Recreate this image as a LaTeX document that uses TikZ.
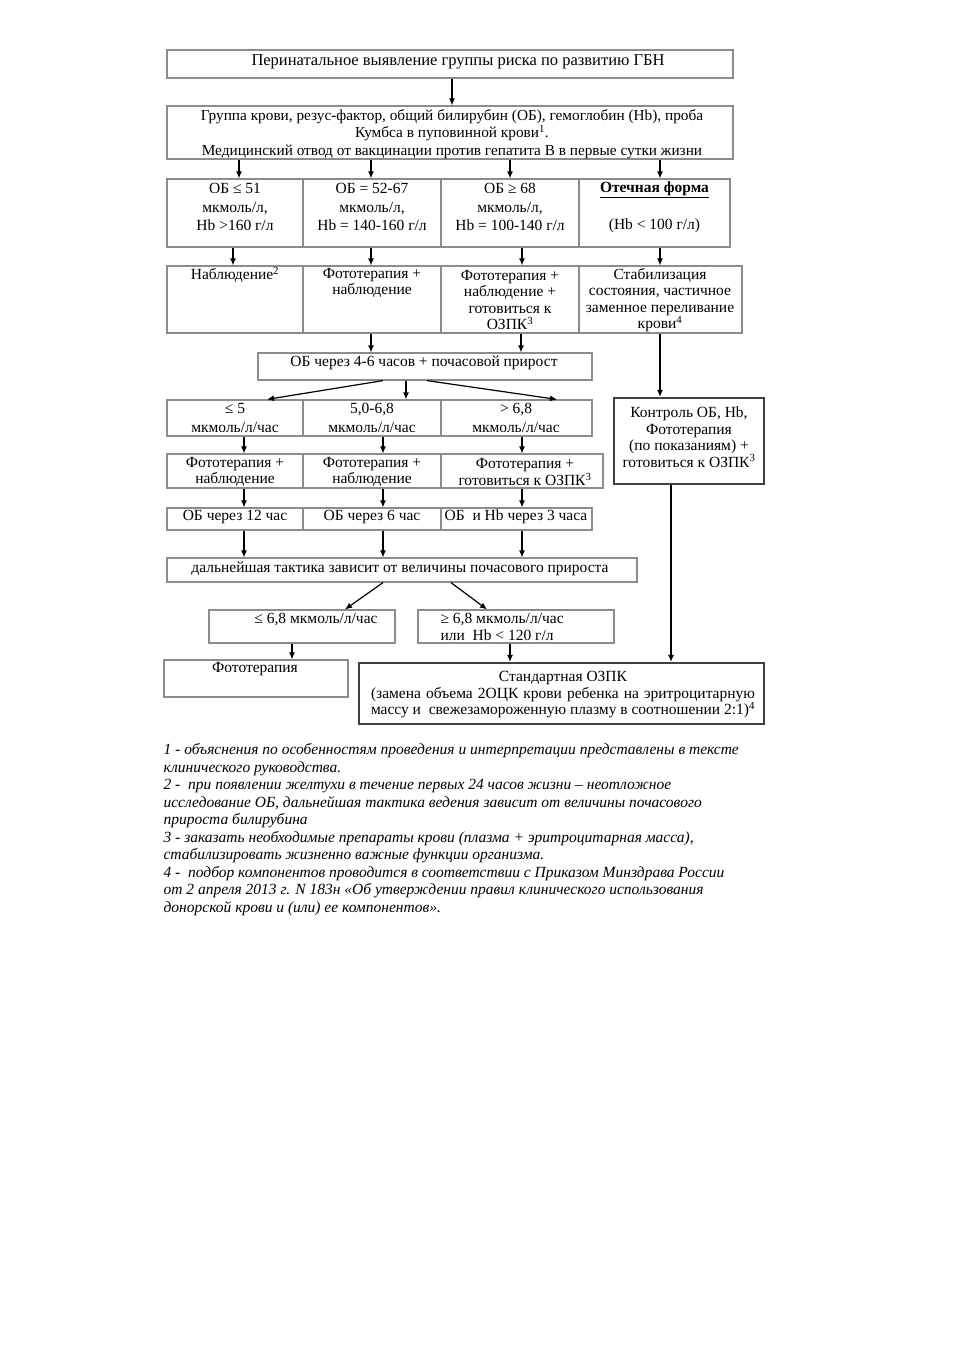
\documentclass[tikz,border=0pt]{standalone}
\usepackage{fontspec}
\setmainfont{Liberation Serif}
\usetikzlibrary{arrows.meta,positioning}
\definecolor{edgegray}{gray}{0.55}
\definecolor{darkedge}{gray}{0.25}
\tikzset{box/.style 2 args = {rectangle, draw=edgegray, line width=1.2pt, minimum width=#1, minimum height=#2, inner sep=0pt},
           bbox/.style 2 args = {rectangle, draw=darkedge, line width=2.2pt, minimum width=#1, minimum height=#2, inner sep=0pt},
           tm/.style = {align=center, inner sep=0pt, font=\fontsize{16.5}{17.5}\selectfont},
           cb/.style = {align=center, inner sep=0pt, font=\fontsize{15.5}{16.5}\selectfont},
           cbw/.style = {align=center, inner sep=0pt, font=\fontsize{15.5}{18.5}\selectfont},
           nt/.style = {align=left, inner sep=0pt, font=\fontsize{15.5}{17.5}\selectfont\itshape}}

\begin{document}
\begin{tikzpicture}[x=1pt, y=-1pt, >={Latex[length=7pt,width=6pt]}, line width=1.2pt]
    \useasboundingbox (0,0) rectangle (954,1350);
    % boxes
    \node[box={566}{28}] (b1) at (450,64) {};
    \node[box={566}{53}] (b2) at (450,132.5) {};
    \node[box={136}{68}] (r3a) at (235,213) {}; \node[box={138}{68}] (r3b) at (372,213) {};
    \node[box={138}{68}] (r3c) at (510,213) {}; \node[box={151}{68}] (r3d) at (654.5,213) {};
    \node[box={136}{67}] (r4a) at (235,299.5) {}; \node[box={138}{67}] (r4b) at (372,299.5) {};
    \node[box={138}{67}] (r4c) at (510,299.5) {}; \node[box={163}{67}] (r4d) at (660.5,299.5) {};
    \node[box={334}{27}] (b46) at (425,366.5) {};
    \node[bbox={150}{86}] (ctl) at (689,441) {};
    \node[box={136}{36}] (r5a) at (235,418) {}; \node[box={138}{36}] (r5b) at (372,418) {};
    \node[box={151}{36}] (r5c) at (516.5,418) {};
    \node[box={136}{34}] (r6a) at (235,471) {}; \node[box={138}{34}] (r6b) at (372,471) {};
    \node[box={162}{34}] (r6c) at (522,471) {};
    \node[box={136}{22}] (r7a) at (235,519) {}; \node[box={138}{22}] (r7b) at (372,519) {};
    \node[box={151}{22}] (r7c) at (516.5,519) {};
    \node[box={470}{24}] (r8) at (402,570) {};
    \node[box={186}{33}] (lo) at (302,626.5) {};
    \node[box={196}{33}] (hi) at (516,626.5) {};
    \node[box={184}{37}] (ft) at (256,678.5) {};
    \node[bbox={405}{61}] (st) at (561.5,693.5) {};
    % texts
    \node[tm] (b1t) at (458,62) {Перинатальное выявление группы риска по развитию ГБН};
    \node[tm, font=\fontsize{15.3}{17.5}\selectfont] (b2t) at (452,134) {Группа крови, резус-фактор, общий билирубин (ОБ), гемоглобин (Hb), проба\\Кумбса в пуповинной крови\textsuperscript{1}.\\Медицинский отвод от вакцинации против гепатита В в первые сутки жизни};
    \node[cbw] (r3at) at (235,207) {ОБ ≤ 51\\мкмоль/л,\\Hb >160 г/л};
    \node[cbw] (r3bt) at (372,207) {ОБ = 52-67\\мкмоль/л,\\Hb = 140-160 г/л};
    \node[cbw] (r3ct) at (510,207) {ОБ ≥ 68\\мкмоль/л,\\Hb = 100-140 г/л};
    \node[cbw] (r3dt) at (654.5,207) {\textbf{\underline{Отечная форма}}\\\mbox{}\\(Hb < 100 г/л)};
    \node[cb] (r4at) at (235,275) {Наблюдение\textsuperscript{2}};
    \node[cb] (r4bt) at (372,283) {Фототерапия +\\наблюдение};
    \node[cb] (r4ct) at (510,300) {Фототерапия +\\наблюдение +\\готовиться к\\ОЗПК\textsuperscript{3}};
    \node[cb] (r4dt) at (660,300) {Стабилизация\\состояния, частичное\\заменное переливание\\крови\textsuperscript{4}};
    \node[cb] (b46t) at (424,363) {ОБ через 4-6 часов + почасовой прирост};
    \node[cbw] (r5at) at (235,418) {≤ 5\\мкмоль/л/час};
    \node[cbw] (r5bt) at (372,418) {5,0-6,8\\мкмоль/л/час};
    \node[cbw] (r5ct) at (516,418) {> 6,8\\мкмоль/л/час};
    \node[cb] (ctlt) at (689,437) {Контроль ОБ, Hb,\\Фототерапия\\(по показаниям) +\\готовиться к ОЗПК\textsuperscript{3}};
    \node[cb] (r6at) at (235,472) {Фототерапия +\\наблюдение};
    \node[cb] (r6bt) at (372,472) {Фототерапия +\\наблюдение};
    \node[cb] (r6ct) at (525,472) {Фототерапия +\\готовиться к ОЗПК\textsuperscript{3}};
    \node[cb] (r7at) at (235,517) {ОБ через 12 час};
    \node[cb] (r7bt) at (372,517) {ОБ через 6 час};
    \node[cb] (r7ct) at (516,517) {ОБ~ и Hb через 3 часа};
    \node[cb] (r8t) at (400,569) {дальнейшая тактика зависит от величины почасового прироста};
    \node[cb] (lot) at (316,620) {≤ 6,8 мкмоль/л/час};
    \node[cb, align=left, anchor=west] (hit) at (440,627) {≥ 6,8 мкмоль/л/час\\или~ Hb < 120 г/л};
    \node[cb] (ftt) at (255,669) {Фототерапия};
    \node[cb] (stt) at (563,695) {Стандартная ОЗПК\\\makebox[384pt][s]{(замена объема 2ОЦК крови ребенка на эритроцитарную}\\\makebox[384pt][s]{массу и~ свежезамороженную плазму в соотношении 2:1)\textsuperscript{4}}};
    % arrows
    \draw[->] (b1.south -| 452,0) -- (b2.north -| 452,0);
    \draw[->] (b2.south -| 239,0) -- (r3a.north -| 239,0);
    \draw[->] (b2.south -| 371,0) -- (r3b.north -| 371,0);
    \draw[->] (b2.south -| 510,0) -- (r3c.north -| 510,0);
    \draw[->] (b2.south -| 660,0) -- (r3d.north -| 660,0);
    \draw[->] (r3a.south -| 233,0) -- (r4a.north -| 233,0);
    \draw[->] (r3b.south -| 371,0) -- (r4b.north -| 371,0);
    \draw[->] (r3c.south -| 522,0) -- (r4c.north -| 522,0);
    \draw[->] (r3d.south -| 660,0) -- (r4d.north -| 660,0);
    \draw[->] (r4b.south -| 371,0) -- (b46.north -| 371,0);
    \draw[->] (r4c.south -| 521,0) -- (b46.north -| 521,0);
    \draw[->] (r4d.south -| 660,0) -- (ctl.north -| 660,0);
    \draw[->] (b46.south -| 383,0) -- (r5a.north -| 267,0);
    \draw[->] (b46.south -| 406,0) -- (r5b.north -| 406,0);
    \draw[->] (b46.south -| 427,0) -- (r5c.north -| 557,0);
    \draw[->] (r5a.south -| 244,0) -- (r6a.north -| 244,0);
    \draw[->] (r5b.south -| 383,0) -- (r6b.north -| 383,0);
    \draw[->] (r5c.south -| 522,0) -- (r6c.north -| 522,0);
    \draw[->] (r6a.south -| 244,0) -- (r7a.north -| 244,0);
    \draw[->] (r6b.south -| 383,0) -- (r7b.north -| 383,0);
    \draw[->] (r6c.south -| 522,0) -- (r7c.north -| 522,0);
    \draw[->] (r7a.south -| 244,0) -- (r8.north -| 244,0);
    \draw[->] (r7b.south -| 383,0) -- (r8.north -| 383,0);
    \draw[->] (r7c.south -| 522,0) -- (r8.north -| 522,0);
    \draw[->] (r8.south -| 383,0) -- (lo.north -| 345,0);
    \draw[->] (r8.south -| 451,0) -- (hi.north -| 487,0);
    \draw[->] (lo.south -| 292,0) -- (ft.north -| 292,0);
    \draw[->] (hi.south -| 510,0) -- (st.north -| 510,0);
    \draw[->] (ctl.south -| 671,0) -- (st.north -| 671,0);
    % footnotes
    \node[nt, anchor=north west] (notes) at (163,743) {1 - объяснения по особенностям проведения и интерпретации представлены в тексте\\клинического руководства.\\2 -~ при появлении желтухи в течение первых 24 часов жизни – неотложное\\исследование ОБ, дальнейшая тактика ведения зависит от величины почасового\\прироста билирубина\\3 - заказать необходимые препараты крови (плазма + эритроцитарная масса),\\стабилизировать жизненно важные функции организма.\\4 -~ подбор компонентов проводится в соответствии с Приказом Минздрава России\\от 2 апреля 2013 г. N 183н «Об утверждении правил клинического использования\\донорской крови и (или) ее компонентов».};
\end{tikzpicture}
\end{document}
